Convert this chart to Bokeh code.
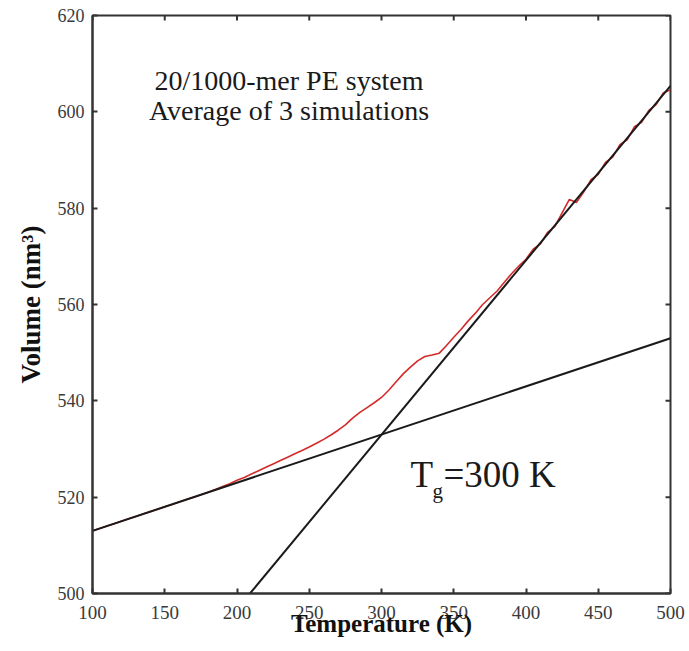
from bokeh.plotting import figure
from bokeh.models import FixedTicker, Label
from bokeh.embed import file_html
from bokeh.resources import INLINE

# --- data -------------------------------------------------------------
temperature = list(range(100, 505, 5))
volume_avg = [
    513.0, 513.5, 514.0, 514.5, 515.0, 515.5, 516.0, 516.5, 517.0, 517.5,
    518.0, 518.5, 519.0, 519.5, 520.0, 520.5, 521.0, 521.6, 522.2, 522.8,
    523.5, 524.1, 524.8, 525.5, 526.2, 526.9, 527.6, 528.3, 529.0, 529.7,
    530.4, 531.2, 532.0, 532.9, 533.9, 535.0, 536.4, 537.6, 538.6, 539.6,
    540.7, 542.2, 543.9, 545.6, 547.0, 548.3, 549.2, 549.5, 549.9, 551.5,
    553.2, 554.8, 556.6, 558.2, 560.0, 561.4, 562.8, 564.6, 566.4, 568.0,
    569.4, 571.5, 572.6, 575.0, 576.2, 579.0, 581.8, 581.2, 583.4, 585.9,
    587.0, 589.5, 590.6, 593.2, 594.2, 596.9, 597.8, 600.3, 601.5, 603.9,
    604.6,
]
glass_fit_T = [100, 500]
glass_fit_V = [513.0, 553.0]
melt_fit_T = [209, 500]
melt_fit_V = [500.0, 605.4]

x_ticks = [100, 150, 200, 250, 300, 350, 400, 450, 500]
y_ticks = [500, 520, 540, 560, 580, 600, 620]

SERIF = "Liberation Serif"
AXIS_COLOR = "#333333"

p = figure(width=689, height=651, x_range=(100, 500), y_range=(500, 620),
           output_backend="svg", toolbar_location=None,
           min_border_left=92, min_border_right=19,
           min_border_top=15, min_border_bottom=58)
p.grid.visible = False
p.outline_line_color = AXIS_COLOR
p.outline_line_width = 2
p.background_fill_color = "white"
p.border_fill_color = "white"

# curves (red data first, fits on top)
p.line(temperature, volume_avg, line_color="#d42a2a", line_width=1.6)
p.line(glass_fit_T, glass_fit_V, line_color="#1a1a1a", line_width=2)
p.line(melt_fit_T, melt_fit_V, line_color="#1a1a1a", line_width=2)

# mirrored inward ticks on top and right frame edges
p.ray(x=x_ticks, y=[620] * len(x_ticks), length=5, length_units="screen",
      angle=-90, angle_units="deg", line_color=AXIS_COLOR, line_width=2)
p.ray(x=[500] * len(y_ticks), y=y_ticks, length=5, length_units="screen",
      angle=180, angle_units="deg", line_color=AXIS_COLOR, line_width=2)

def style_axis(ax, ticks):
    ax.ticker = FixedTicker(ticks=ticks)
    ax.major_tick_in = 5
    ax.major_tick_out = 0
    ax.minor_tick_in = 0
    ax.minor_tick_out = 0
    ax.axis_line_color = AXIS_COLOR
    ax.axis_line_width = 2
    ax.major_tick_line_color = AXIS_COLOR
    ax.major_tick_line_width = 2
    ax.major_label_text_font = SERIF
    ax.major_label_text_color = "#3a3a3a"

xa = p.xaxis[0]
style_axis(xa, x_ticks)
xa.major_label_text_font_size = "19px"
xa.major_label_standoff = 12
xa.axis_label = "Temperature (K)"
xa.axis_label_text_font = SERIF
xa.axis_label_text_font_style = "bold"
xa.axis_label_text_font_size = "25px"
xa.axis_label_text_color = "#111111"
xa.axis_label_standoff = -12

ya = p.yaxis[0]
style_axis(ya, y_ticks)
ya.major_label_text_font_size = "18px"
ya.major_label_standoff = 8
ya.axis_label = "Volume (nm³)"
ya.axis_label_text_font = SERIF
ya.axis_label_text_font_style = "bold"
ya.axis_label_text_font_size = "27px"
ya.axis_label_text_color = "#111111"
ya.axis_label_standoff = 9

# annotations
def add_text(x, y, text, size, align="left"):
    p.add_layout(Label(x=x, y=y, text=text, text_align=align,
                       text_baseline="alphabetic", text_font=SERIF,
                       text_font_size=size, text_color="#1a1a1a"))

add_text(236, 606.5, "20/1000-mer PE system", "28px", "center")
add_text(236, 600.3, "Average of 3 simulations", "28px", "center")
add_text(320, 524.7, "T", "37px")
add_text(335.3, 521.3, "g", "21px")
add_text(342.9, 524.7, "=300 K", "37px")

open("out.html", "w").write(file_html(p, INLINE))
